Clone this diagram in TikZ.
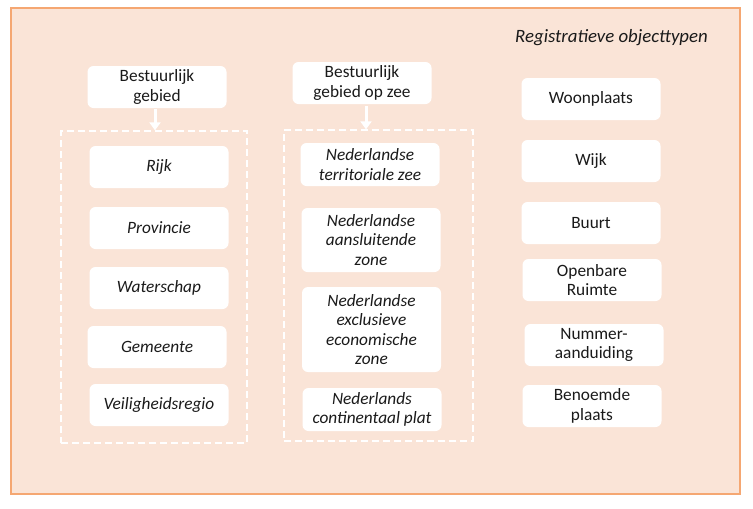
\documentclass[tikz,border=0pt]{standalone}
\usepackage{fontspec}
\setmainfont{Carlito}
\usetikzlibrary{arrows.meta}
\definecolor{peach}{HTML}{FAE4D7}
\definecolor{orangeedge}{HTML}{F5A772}
\definecolor{txt}{HTML}{1A1A1A}
\tikzset{
  box/.style={fill=white, rounded corners=6pt, minimum width=139pt, minimum height=42pt, align=center, font=\fontsize{17.3}{19.5}\selectfont, text=txt, inner sep=1pt},
  ibox/.style={box, font=\fontsize{17.3}{19.5}\selectfont\itshape},
  group/.style={draw=white, dashed, dash pattern=on 7pt off 4pt, line width=1.3pt},
  warrow/.style={draw=white, line width=3pt, -{Triangle[width=11pt,length=8pt]}}
}
\begin{document}
\begin{tikzpicture}[x=1pt,y=-1pt]
\useasboundingbox (0,0) rectangle (753,509);
\node[draw=orangeedge, fill=peach, line width=1.2pt, minimum width=729pt, minimum height=486pt, inner sep=0pt] (frame) at (375.5,251) {};
\node[font=\fontsize{18.8}{20}\selectfont\itshape, text=txt] (title) at (611.5,38) {Registratieve objecttypen};

\node[box] (bg) at (157,87) {Bestuurlijk\\gebied};
\node[group, minimum width=186pt, minimum height=312pt, inner sep=0pt] (g1) at (154,287) {};
\draw[warrow] (bg.south -| 155,0) ++(0,1) coordinate (a1) -- (a1 |- g1.north);
\node[ibox] (rijk) at (159,167) {Rijk};
\node[ibox] (prov) at (159,228) {Provincie};
\node[ibox] (ws) at (159,288) {Waterschap};
\node[ibox] (gem) at (157,347) {Gemeente};
\node[ibox] (vr) at (159,405) {Veiligheidsregio};

\node[box] (bgz) at (362,83) {Bestuurlijk\\gebied op zee};
\node[group, minimum width=189pt, minimum height=311pt, inner sep=0pt] (g2) at (378.5,285.5) {};
\draw[warrow] (bgz.south -| 366,0) ++(0,2) coordinate (a2) -- (a2 |- g2.north);
\node[ibox, minimum height=43pt] (ntz) at (370,164.5) {Nederlandse\\territoriale zee};
\node[ibox, minimum height=64pt] (naz) at (371,240) {Nederlandse\\aansluitende\\zone};
\node[ibox, minimum height=85pt] (neez) at (371.5,329.5) {Nederlandse\\exclusieve\\economische\\zone};
\node[ibox, minimum height=43pt] (ncp) at (372,409.5) {Nederlands\\continentaal plat};

\node[box] (wp) at (591,99) {Woonplaats};
\node[box] (wijk) at (591,161) {Wijk};
\node[box] (buurt) at (591,223) {Buurt};
\node[box] (or) at (592,280) {Openbare\\Ruimte};
\node[box] (na) at (594,345) {Nummer-\\aanduiding};
\node[box] (bp) at (592,406) {Benoemde\\plaats};
\end{tikzpicture}
\end{document}
